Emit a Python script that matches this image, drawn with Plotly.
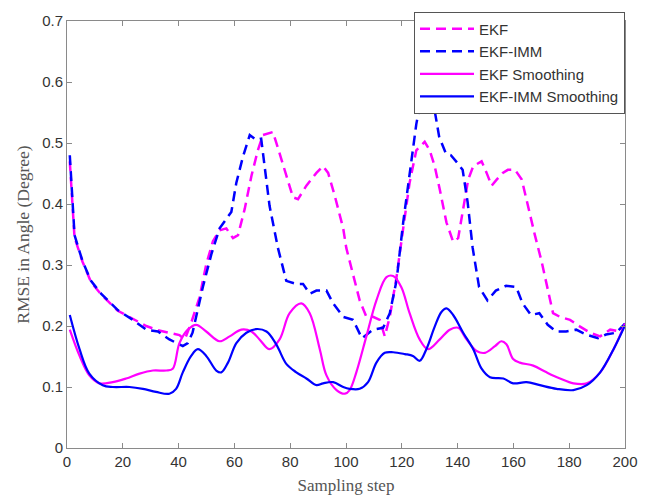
import plotly.graph_objects as go

# EKF-IMM (blue dashed)
imm_x = [1, 2.7, 4.5, 5.6, 8.6, 12.2, 18.2, 23.6, 28.4, 32.6, 36.7, 41.5, 43.3, 45, 48.7, 51.7, 54.7, 57.1,
         58.9, 60.7, 63.1, 65.5, 67.8, 69.6, 70.8, 72.6, 75.6, 78.6, 82.2, 84.6, 87, 89.4, 93, 95.4, 99,
         102.5, 103.7, 105.7, 109.7, 113.3, 115.7, 118.1, 120.5, 122.8, 125.2, 127, 129, 131.6, 133.4,
         135.8, 137.6, 140, 141.8, 143.6, 145.4, 147.7, 150.7, 153.7, 157.4, 161, 163.3, 166.3, 169.3,
         172.3, 175.3, 178.9, 182.5, 186.1, 190.3, 193.2, 196.8, 200]
imm_y = [0.48, 0.349, 0.322, 0.306, 0.274, 0.253, 0.226, 0.21, 0.194, 0.191, 0.178, 0.167, 0.172, 0.189,
         0.264, 0.317, 0.36, 0.376, 0.387, 0.435, 0.478, 0.513, 0.505, 0.507, 0.462, 0.397, 0.328, 0.274,
         0.269, 0.269, 0.253, 0.258, 0.258, 0.237, 0.215, 0.21, 0.199, 0.18, 0.194, 0.197, 0.221, 0.274,
         0.37, 0.451, 0.531, 0.574, 0.6, 0.558, 0.51, 0.483, 0.48, 0.467, 0.456, 0.403, 0.328, 0.264,
         0.242, 0.258, 0.266, 0.264, 0.237, 0.218, 0.221, 0.202, 0.191, 0.191, 0.194, 0.186, 0.18, 0.186,
         0.189, 0.204]

# EKF (magenta dashed)
ekf_x = [1, 2.7, 4.5, 5.6, 8.6, 12.2, 18.2, 23.6, 28.4, 32.6, 36.7, 40.3, 42.2, 44.5, 47.5, 49.9, 52.3,
         54.7, 57.1, 59.5, 61.3, 63.7, 66.1, 68.4, 70.2, 72, 73.8, 76.2, 79.2, 81, 82.8, 85.8, 89.4, 91.8,
         93.6, 96, 99, 100.1, 102.5, 104.9, 107.3, 109.7, 112.1, 113.9, 115.7, 118.1, 120.5, 122.8, 125.2,
         128.2, 130, 131.8, 133.6, 136, 138.4, 140.2, 142, 143.8, 145.6, 148.6, 150.4, 152.2, 154, 156.2,
         158, 160.6, 163, 165.4, 167.7, 170.1, 172.5, 174.2, 176.7, 180.3, 183.9, 187.5, 191.1, 194.7,
         198.3, 200]
ekf_y = [0.47, 0.345, 0.32, 0.305, 0.272, 0.252, 0.225, 0.212, 0.2, 0.193, 0.189, 0.185, 0.178, 0.205,
         0.247, 0.301, 0.339, 0.357, 0.36, 0.344, 0.349, 0.392, 0.446, 0.488, 0.513, 0.515, 0.518, 0.483,
         0.44, 0.411, 0.408, 0.43, 0.451, 0.462, 0.451, 0.413, 0.36, 0.328, 0.285, 0.242, 0.215, 0.215,
         0.21, 0.183, 0.215, 0.28, 0.36, 0.435, 0.488, 0.502, 0.488, 0.462, 0.424, 0.37, 0.338, 0.344,
         0.392, 0.44, 0.462, 0.47, 0.451, 0.43, 0.44, 0.451, 0.456, 0.456, 0.44, 0.392, 0.349, 0.306,
         0.253, 0.221, 0.215, 0.21, 0.199, 0.189, 0.183, 0.194, 0.191, 0.204]

# EKF Smoothing (magenta solid)
ekfs_x = [1, 4.5, 8, 11.6, 16.4, 21.2, 26, 30.8, 35.6, 37.9, 40.3, 43.3, 46.3, 49.9, 54.7, 58.3, 62.5,
          66.1, 69, 72.6, 76.2, 79.8, 84, 87, 90.6, 93, 96.6, 99.6, 101.3, 103.7, 107.3, 110.9, 114.5,
          116.9, 119.8, 122.8, 126.4, 129.4, 133.6, 137.2, 140.2, 143.2, 146.8, 149.8, 153.4, 155.7, 157.5,
          159.9, 162.3, 167.1, 171.9, 176.7, 181.5, 186.3, 191.1, 195.9, 200]
ekfs_y = [0.194, 0.151, 0.119, 0.106, 0.108, 0.114, 0.122, 0.127, 0.127, 0.13, 0.172, 0.194, 0.202, 0.191,
          0.175, 0.183, 0.194, 0.191, 0.178, 0.162, 0.178, 0.221, 0.237, 0.221, 0.162, 0.119, 0.095, 0.089,
          0.095, 0.124, 0.183, 0.242, 0.28, 0.282, 0.264, 0.221, 0.178, 0.162, 0.178, 0.194, 0.197, 0.178,
          0.159, 0.156, 0.167, 0.175, 0.17, 0.146, 0.14, 0.135, 0.124, 0.114, 0.106, 0.106, 0.124, 0.162,
          0.204]

# EKF-IMM Smoothing (blue solid)
imms_x = [1, 4.5, 8, 12.8, 16.4, 22.4, 27.2, 31.9, 36.7, 39.1, 41.5, 44.5, 46.9, 49.9, 53.5, 55.3, 57.7,
          60.7, 64.3, 67.8, 71.5, 75, 78.6, 82.2, 85.8, 89.4, 91.8, 95.4, 99, 101.3, 104.9, 107.9, 110.9,
          113.9, 116.9, 121.1, 124, 126.4, 128.8, 131.8, 134.2, 136, 138.4, 142, 145.6, 148.6, 151.6,
          156.4, 159.9, 164.7, 169.5, 175.5, 181.5, 186.3, 191.1, 195.9, 200]
imms_y = [0.218, 0.162, 0.122, 0.103, 0.1, 0.1, 0.097, 0.092, 0.089, 0.097, 0.124, 0.151, 0.162, 0.151,
          0.127, 0.124, 0.14, 0.172, 0.189, 0.195, 0.191, 0.17, 0.138, 0.124, 0.114, 0.103, 0.106, 0.108,
          0.1, 0.097, 0.097, 0.108, 0.14, 0.156, 0.157, 0.154, 0.151, 0.143, 0.162, 0.199, 0.223, 0.229,
          0.218, 0.189, 0.162, 0.13, 0.116, 0.114, 0.106, 0.108, 0.103, 0.097, 0.095, 0.103, 0.124, 0.162,
          0.201]

x_ticks = [0, 20, 40, 60, 80, 100, 120, 140, 160, 180, 200]
y_ticks = [0, 0.1, 0.2, 0.3, 0.4, 0.5, 0.6, 0.7]

MAG = "#FF00FF"
BLUE = "#0000FF"

fig = go.Figure()
fig.add_trace(go.Scatter(x=ekf_x, y=ekf_y, name="EKF", mode="lines",
                         line=dict(color=MAG, width=2.5, dash="10px,6px")))
fig.add_trace(go.Scatter(x=imm_x, y=imm_y, name="EKF-IMM", mode="lines",
                         line=dict(color=BLUE, width=2.5, dash="10px,6px")))
fig.add_trace(go.Scatter(x=ekfs_x, y=ekfs_y, name="EKF Smoothing", mode="lines",
                         line=dict(color=MAG, width=2.2, shape="spline")))
fig.add_trace(go.Scatter(x=imms_x, y=imms_y, name="EKF-IMM Smoothing", mode="lines",
                         line=dict(color=BLUE, width=2.2, shape="spline")))

axis_common = dict(showline=True, linecolor="#8a8a8a", linewidth=1, mirror="allticks",
                   ticks="inside", ticklen=5, tickcolor="#8a8a8a", showgrid=False, zeroline=False,
                   tickfont=dict(family="Liberation Sans, Arial", size=15, color="#333333"))

fig.update_layout(
    width=654, height=504,
    margin=dict(l=67, r=29, t=15, b=53),
    plot_bgcolor="white", paper_bgcolor="white",
    xaxis=dict(range=[0, 200], tickvals=x_ticks, **axis_common,
               title=dict(text="Sampling step", standoff=10,
                          font=dict(family="Liberation Serif, Times New Roman", size=17, color="#555555"))),
    yaxis=dict(range=[0, 0.7], tickvals=y_ticks, ticktext=[("%g" % v) for v in y_ticks], **axis_common,
               title=dict(text="RMSE in Angle (Degree)", standoff=8,
                          font=dict(family="Liberation Serif, Times New Roman", size=17.5, color="#555555"))),
    legend=dict(x=1, y=1.022, xanchor="right", yanchor="top", bgcolor="white",
                bordercolor="#555555", borderwidth=1, tracegroupgap=0, itemwidth=54,
                font=dict(family="Liberation Sans, Arial", size=15, color="#333333")),
    showlegend=True,
)

fig.write_html("out.html")
